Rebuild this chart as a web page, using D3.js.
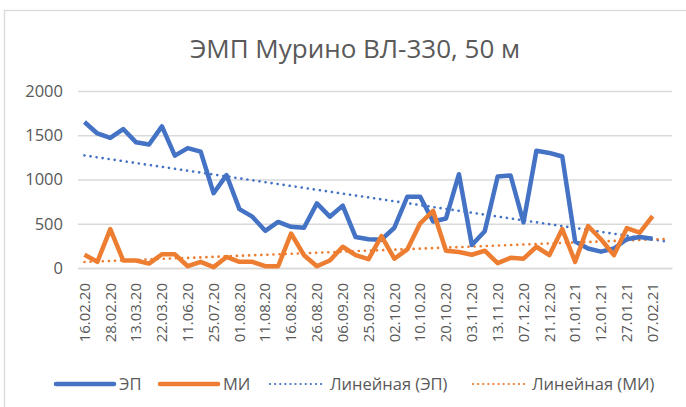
<!DOCTYPE html>
<html>
<head>
<meta charset="utf-8">
<script src="https://cdn.jsdelivr.net/npm/d3@7"></script>
<style>
  body { margin: 0; background: #fff; }
  svg text { font-family: "Open Sans", sans-serif; fill: #595959; }
</style>
</head>
<body>
<div id="chart"></div>
<script>
// chart data
var tickLabels = ["16.02.20", "28.02.20", "13.03.20", "22.03.20", "11.06.20", "25.07.20",
    "01.08.20", "11.08.20", "16.08.20", "26.08.20", "06.09.20", "25.09.20", "02.10.20",
    "10.10.20", "20.10.20", "03.11.20", "13.11.20", "07.12.20", "21.12.20", "01.01.21",
    "12.01.21", "27.01.21", "07.02.21"];
var nCategories = 46;

var ep = [1650, 1520, 1470, 1570, 1420, 1395, 1600, 1270, 1355, 1315,
    845, 1050, 665, 580, 420, 520, 465, 455, 730, 580,
    705, 350, 325, 320, 455, 805, 805, 525, 560, 1060,
    260, 415, 1035, 1045, 515, 1325, 1300, 1260, 300, 220,
    185, 220, 325, 350, 330];
var mi = [150, 70, 440, 85, 85, 50, 155, 155, 20, 70,
    10, 125, 70, 70, 20, 20, 390, 145, 20, 85,
    240, 145, 100, 360, 105, 210, 505, 645, 195, 180,
    150, 195, 55, 115, 105, 240, 145, 440, 70, 475,
    325, 145, 450, 400, 585];
var yTicks = [0, 500, 1000, 1500, 2000];

var W = 686, H = 407;
var margin = {left: 78, right: 14, top: 91, bottom: 139};

var svg = d3.select("#chart").append("svg")
    .attr("width", W)
    .attr("height", H);

// chart border (cut off at the right and bottom)
svg.append("rect")
    .attr("x", 4.5).attr("y", 10.5)
    .attr("width", W + 20).attr("height", H + 20)
    .attr("fill", "none")
    .attr("stroke", "#d9d9d9")
    .attr("stroke-width", 1.3);

svg.append("text")
    .attr("x", 355).attr("y", 58)
    .attr("text-anchor", "middle")
    .style("font-size", "26px")
    .text("ЭМП Мурино ВЛ-330, 50 м");

var x = d3.scaleBand()
    .domain(d3.range(nCategories))
    .range([margin.left, W - margin.right]);

var y = d3.scaleLinear()
    .domain([0, 2000])
    .range([H - margin.bottom, margin.top]);

var cx = i => x(i) + x.bandwidth() / 2;

// gridlines + y labels
var yAxis = svg.append("g")
    .attr("transform", `translate(${margin.left},0)`)
    .call(d3.axisLeft(y).tickValues(yTicks).tickFormat(d3.format("d"))
        .tickSize(-(W - margin.left - margin.right)).tickPadding(15));
yAxis.select(".domain").remove();
yAxis.selectAll(".tick line").attr("stroke", "#d9d9d9").attr("stroke-width", 1.3);
yAxis.selectAll(".tick text").style("font-size", "16.5px").attr("fill", "#595959");

// x labels every other category
var xAxis = svg.append("g")
    .attr("transform", `translate(0,${H - margin.bottom})`)
    .call(d3.axisBottom(x)
        .tickValues(d3.range(0, nCategories, 2).filter(i => i / 2 < tickLabels.length))
        .tickFormat(i => tickLabels[i / 2])
        .tickSize(0));
xAxis.select(".domain").attr("stroke", "#d9d9d9").attr("stroke-width", 1.3);
xAxis.selectAll(".tick text")
    .style("font-size", "15px")
    .attr("fill", "#595959")
    .attr("text-anchor", "end")
    .attr("transform", "translate(0,15) rotate(-90)")
    .attr("x", 0).attr("y", 0).attr("dy", "0.35em");

// linear trend (least squares on category index, like Excel)
function trend(vals) {
    var mx = d3.mean(vals, (v, i) => i), my = d3.mean(vals);
    var sxy = d3.sum(vals, (v, i) => (i - mx) * (v - my));
    var sxx = d3.sum(vals, (v, i) => (i - mx) * (i - mx));
    var b = sxy / sxx, a = my - b * mx;
    return [0, nCategories - 1].map(i => [i, a + b * i]);
}

var line = d3.line().x(d => cx(d[0])).y(d => y(d[1]));

var series = [
    {name: "ЭП", vals: ep, color: "#4472c4"},
    {name: "МИ", vals: mi, color: "#ed7d31"}
];

series.forEach(s => {
    svg.append("path")
        .datum(trend(s.vals))
        .attr("d", line)
        .attr("fill", "none")
        .attr("stroke", s.color)
        .attr("stroke-width", 2.6)
        .attr("stroke-linecap", "round")
        .attr("stroke-dasharray", "0.1 6");
});

series.forEach(s => {
    svg.append("path")
        .datum(s.vals.map((v, i) => [i, v]))
        .attr("d", line)
        .attr("fill", "none")
        .attr("stroke", s.color)
        .attr("stroke-width", 4.5)
        .attr("stroke-linejoin", "round");
});

// legend
var legendItems = [
    {label: "ЭП", color: "#4472c4", dotted: false, x1: 56, x2: 114},
    {label: "МИ", color: "#ed7d31", dotted: false, x1: 160, x2: 218},
    {label: "Линейная (ЭП)", color: "#4472c4", dotted: true, x1: 270, x2: 325},
    {label: "Линейная (МИ)", color: "#ed7d31", dotted: true, x1: 473, x2: 527}
];
var ly = 384;
var legend = svg.append("g");
legendItems.forEach(d => {
    legend.append("line")
        .attr("x1", d.x1).attr("x2", d.x2)
        .attr("y1", ly).attr("y2", ly)
        .attr("stroke", d.color)
        .attr("stroke-width", d.dotted ? 2.2 : 4.5)
        .attr("stroke-linecap", "round")
        .attr("stroke-dasharray", d.dotted ? "0.1 5" : null);
    legend.append("text")
        .attr("x", d.x2 + 5).attr("y", ly)
        .attr("dy", "0.35em")
        .style("font-size", "16.5px")
        .text(d.label);
});
</script>
</body>
</html>
